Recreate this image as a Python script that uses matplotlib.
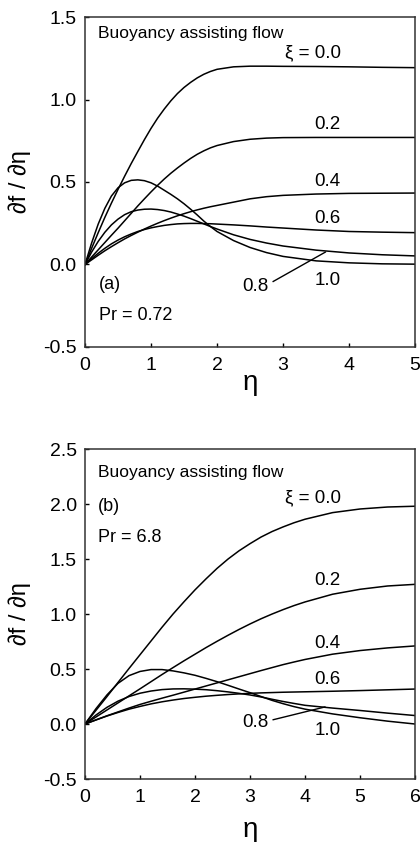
import matplotlib
matplotlib.use("Agg")
import matplotlib.pyplot as plt
from matplotlib.ticker import FormatStrFormatter

plt.rcParams['font.family'] = ['Liberation Sans', 'DejaVu Sans']
plt.rcParams['axes.unicode_minus'] = False

# (a) Pr = 0.72, eta from 0 to 5
eta_a = [0, 0.1, 0.2, 0.3, 0.4, 0.5, 0.6, 0.7, 0.8, 0.9, 1.0, 1.1, 1.2, 1.3, 1.4,
         1.5, 1.6, 1.7, 1.8, 1.9, 2.0, 2.25, 2.5, 2.75, 3.0, 3.5, 4.0, 4.5, 5.0]
fa_00 = [0, 0.098, 0.193, 0.285, 0.372, 0.455, 0.535, 0.612, 0.685, 0.757, 0.825,
         0.887, 0.942, 0.992, 1.036, 1.073, 1.104, 1.131, 1.153, 1.17, 1.183,
         1.198, 1.202, 1.202, 1.201, 1.2, 1.198, 1.195, 1.193]
fa_02 = [0, 0.045, 0.089, 0.133, 0.177, 0.22, 0.265, 0.31, 0.355, 0.398, 0.44,
         0.48, 0.518, 0.553, 0.585, 0.615, 0.643, 0.668, 0.689, 0.707, 0.721,
         0.745, 0.759, 0.766, 0.769, 0.77, 0.77, 0.77, 0.77]
fa_04 = [0, 0.028, 0.056, 0.083, 0.108, 0.132, 0.155, 0.176, 0.196, 0.215, 0.233,
         0.25, 0.266, 0.281, 0.295, 0.308, 0.32, 0.331, 0.341, 0.35, 0.358,
         0.378, 0.398, 0.411, 0.419, 0.427, 0.431, 0.432, 0.433]
fa_06 = [0, 0.035, 0.068, 0.098, 0.125, 0.148, 0.168, 0.185, 0.2, 0.212, 0.222,
         0.23, 0.237, 0.242, 0.246, 0.248, 0.249, 0.249, 0.248, 0.247, 0.245,
         0.24, 0.234, 0.227, 0.221, 0.209, 0.2, 0.196, 0.193]
fa_08 = [0, 0.075, 0.14, 0.195, 0.24, 0.275, 0.302, 0.32, 0.33, 0.335, 0.336,
         0.333, 0.327, 0.318, 0.306, 0.293, 0.278, 0.262, 0.246, 0.23, 0.215,
         0.18, 0.152, 0.13, 0.112, 0.087, 0.07, 0.059, 0.052]
fa_10 = [0, 0.13, 0.245, 0.34, 0.415, 0.465, 0.495, 0.51, 0.513, 0.508, 0.495,
         0.475, 0.45, 0.425, 0.398, 0.368, 0.335, 0.3, 0.263, 0.23, 0.2,
         0.145, 0.103, 0.072, 0.049, 0.022, 0.01, 0.004, 0.002]

# (b) Pr = 6.8, eta from 0 to 6
eta_b = [0, 0.2, 0.4, 0.6, 0.8, 1.0, 1.2, 1.4, 1.6, 1.8, 2.0, 2.2, 2.4, 2.6, 2.8,
         3.0, 3.2, 3.4, 3.6, 3.8, 4.0, 4.5, 5.0, 5.5, 6.0]
fb_00 = [0, 0.125, 0.25, 0.378, 0.505, 0.63, 0.755, 0.88, 1.0, 1.112, 1.22,
         1.32, 1.415, 1.5, 1.575, 1.64, 1.7, 1.75, 1.792, 1.83, 1.862,
         1.922, 1.955, 1.973, 1.98]
fb_02 = [0, 0.064, 0.128, 0.192, 0.256, 0.32, 0.385, 0.45, 0.513, 0.575, 0.635,
         0.695, 0.752, 0.807, 0.86, 0.91, 0.957, 1.0, 1.04, 1.077, 1.11,
         1.18, 1.225, 1.255, 1.27]
fb_04 = [0, 0.038, 0.075, 0.11, 0.145, 0.178, 0.207, 0.235, 0.262, 0.29, 0.318,
         0.346, 0.374, 0.402, 0.43, 0.458, 0.486, 0.513, 0.54, 0.564, 0.587,
         0.635, 0.668, 0.692, 0.71]
fb_06 = [0, 0.037, 0.073, 0.105, 0.135, 0.16, 0.183, 0.202, 0.218, 0.232, 0.243,
         0.253, 0.261, 0.268, 0.274, 0.279, 0.283, 0.286, 0.289, 0.291, 0.293,
         0.298, 0.304, 0.311, 0.318]
fb_08 = [0, 0.082, 0.152, 0.208, 0.25, 0.28, 0.3, 0.313, 0.319, 0.32, 0.317,
         0.312, 0.303, 0.292, 0.279, 0.264, 0.246, 0.225, 0.205, 0.187, 0.17,
         0.145, 0.123, 0.099, 0.077]
fb_10 = [0, 0.14, 0.265, 0.37, 0.44, 0.478, 0.495, 0.495, 0.483, 0.465, 0.443,
         0.415, 0.385, 0.352, 0.318, 0.285, 0.25, 0.215, 0.185, 0.158, 0.135,
         0.092, 0.057, 0.026, 0.0]

fig = plt.figure(figsize=(4.2, 8.42), dpi=100)
ax1 = fig.add_axes([0.2024, 0.5879, 0.786, 0.3919])
ax2 = fig.add_axes([0.2024, 0.0748, 0.786, 0.3919])

for ys in [fa_00, fa_02, fa_04, fa_06, fa_08, fa_10]:
    ax1.plot(eta_a, ys, color='black', lw=1.1)
for ys in [fb_00, fb_02, fb_04, fb_06, fb_08, fb_10]:
    ax2.plot(eta_b, ys, color='black', lw=1.1)

ax1.set_xlim(0, 5)
ax1.set_ylim(-0.5, 1.5)
ax1.set_xticks(range(0, 6))
ax1.set_yticks([-0.5, 0.0, 0.5, 1.0, 1.5])

ax2.set_xlim(0, 6)
ax2.set_ylim(-0.5, 2.5)
ax2.set_xticks(range(0, 7))
ax2.set_yticks([-0.5, 0.0, 0.5, 1.0, 1.5, 2.0, 2.5])

for ax, xl_y in ((ax1, -0.109), (ax2, -0.155)):
    ax.yaxis.set_major_formatter(FormatStrFormatter('%.1f'))
    ax.tick_params(direction='in', length=3, width=1, labelsize=14, pad=6)
    ax.tick_params(axis='x', pad=7)
    for s in ax.spines.values():
        s.set_linewidth(1.1)
        s.set_color('#333333')
    ax.set_xlabel('η', fontsize=20, va='center')
    ax.xaxis.set_label_coords(0.5, xl_y)
    ax.set_ylabel('∂f / ∂η', fontsize=17, va='center')
    ax.yaxis.set_label_coords(-0.197, 0.5)

lab = dict(fontsize=13.5, color='black')

ax1.text(0.2, 1.375, 'Buoyancy assisting flow', fontsize=12.5)
ax1.text(3.87, 1.254, 'ξ = 0.0', ha='right', **lab)
ax1.text(3.87, 0.82, '0.2', ha='right', **lab)
ax1.text(3.87, 0.478, '0.4', ha='right', **lab)
ax1.text(3.87, 0.25, '0.6', ha='right', **lab)
ax1.text(2.78, -0.163, '0.8', ha='right', **lab)
ax1.text(3.87, -0.123, '1.0', ha='right', **lab)
ax1.plot([2.85, 3.64], [-0.103, 0.075], color='black', lw=1)
ax1.text(0.21, -0.147, '(a)', fontsize=13)
ax1.text(0.21, -0.339, 'Pr = 0.72', fontsize=13)

ax2.text(0.24, 2.25, 'Buoyancy assisting flow', fontsize=12.5)
ax2.text(0.24, 1.94, '(b)', fontsize=13)
ax2.text(0.24, 1.655, 'Pr = 6.8', fontsize=13)
ax2.text(4.65, 2.015, 'ξ = 0.0', ha='right', **lab)
ax2.text(4.65, 1.26, '0.2', ha='right', **lab)
ax2.text(4.65, 0.69, '0.4', ha='right', **lab)
ax2.text(4.65, 0.364, '0.6', ha='right', **lab)
ax2.text(3.33, -0.027, '0.8', ha='right', **lab)
ax2.text(4.65, -0.097, '1.0', ha='right', **lab)
ax2.plot([3.42, 4.36], [0.039, 0.155], color='black', lw=1)

fig.savefig('out.png', dpi=100)
